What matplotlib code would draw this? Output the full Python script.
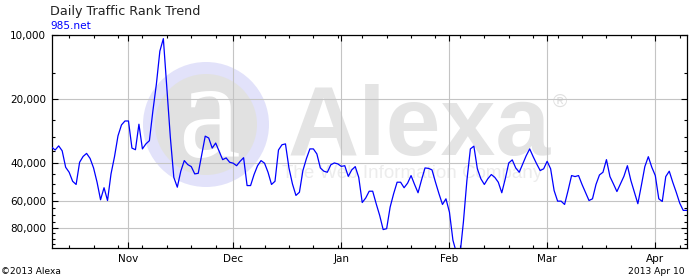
import numpy as np
import pandas as pd
import matplotlib
matplotlib.use("Agg")
import matplotlib.pyplot as plt
import matplotlib.dates as mdates
from matplotlib.patches import Ellipse
from matplotlib.ticker import FixedLocator, FuncFormatter, NullFormatter

# daily rank, 2012-10-10 .. 2013-04-10
dates = pd.date_range("2012-10-10", "2013-04-10", freq="D")
rank = [
    33600, 34600, 33100, 34900, 41700, 44000, 48500, 50200, 39500, 37100,
    35900, 37900, 42000, 49000, 59200, 52000, 59700, 44800, 37200, 29700,
    26400, 25300, 25300, 33900, 34500, 26200, 34200, 32400, 31300, 22700,
    17000, 11900, 10400, 17800, 30100, 46500, 51700, 43500, 38800, 40500,
    41400, 44800, 44500, 36400, 29800, 30400, 33900, 32100, 35100, 38400,
    37700, 39500, 39900, 41000, 39100, 37600, 50800, 50800, 45100, 41000,
    38800, 39900, 44000, 50200, 48500, 34600, 32700, 32400, 42000, 49900,
    56500, 54600, 43200, 38000, 34200, 34200, 36100, 42000, 43500, 44000,
    40600, 39800, 40200, 41300, 41000, 46000, 42900, 41400, 46500, 61000,
    58100, 54000, 54000, 61800, 70100, 81700, 80900, 64100, 55500, 49000,
    49000, 52000, 49500, 45600, 50200, 54900, 47800, 42000, 42200, 42900,
    49000, 55500, 62300, 58600, 67700, 91700, 105000, 108000, 75300, 48100,
    34200, 33200, 42400, 47200, 50200, 47200, 45100, 46500, 49000, 54900,
    47200, 39800, 38500, 42000, 44000, 40200, 36800, 34200, 37200, 40200,
    43200, 42400, 39100, 42400, 53600, 60100, 60100, 62300, 53600, 45600,
    46100, 45600, 50200, 54800, 59700, 58600, 50200, 45300, 44000, 38400,
    46100, 49900, 54200, 49900, 46000, 41000, 48100, 54600, 61800, 50800,
    41400, 37200, 41700, 45600, 58600, 60300, 46100, 43500, 49000, 54600,
    61400, 66400, 66400,
]
y_major = [10000, 20000, 40000, 60000, 80000]
y_minor = [15000, 25000, 30000, 35000, 45000, 50000, 55000,
           65000, 70000, 75000, 85000, 90000, 95000]

W, H = 700, 280
L, R, T, B = 51.7, 686.7, 35.0, 248.3

fig = plt.figure(figsize=(W / 100, H / 100), dpi=100)
ax = fig.add_axes([L / W, 1 - B / H, (R - L) / W, (B - T) / H])


def ax_xy(px, py):
    return (px - L) / (R - L), (B - py) / (B - T)


# alexa watermark
cx, cy = ax_xy(206, 124.5)
ax.add_patch(Ellipse((cx, cy), 126 / (R - L), 125 / (B - T), transform=ax.transAxes,
                     facecolor="#e2e2fa", edgecolor="none", zorder=1))
ax.add_patch(Ellipse((cx, cy), 102 / (R - L), 101 / (B - T), transform=ax.transAxes,
                     facecolor="#e1e1e1", edgecolor="none", zorder=1))
tx, ty = ax_xy(209, 157)
ax.text(tx, ty, "a", transform=ax.transAxes, ha="center", va="baseline",
        fontsize=100, family="Liberation Serif", color="white", zorder=1)
tx, ty = ax_xy(288, 155)
ax.text(tx, ty, "Alexa", transform=ax.transAxes, ha="left", va="baseline",
        fontsize=71, family="Liberation Sans", fontweight="bold",
        color="#e4e4e4", zorder=1)
tx, ty = ax_xy(553, 107)
ax.text(tx, ty, "\u00ae", transform=ax.transAxes, ha="left", va="baseline",
        fontsize=14, family="Liberation Sans", color="#e0e0e0", zorder=1)
tx, ty = ax_xy(282, 178)
ax.text(tx, ty, "The Web Information Company", transform=ax.transAxes, ha="left",
        va="baseline", fontsize=13.5, family="Liberation Sans", color="#ececec", zorder=1)

ax.plot(dates, rank, color="#0000ff", linewidth=0.9, zorder=3)

ax.set_yscale("log")
ax.set_ylim(100000, 10000)
ax.yaxis.set_major_locator(FixedLocator(y_major))
ax.yaxis.set_minor_locator(FixedLocator(y_minor))
ax.yaxis.set_major_formatter(FuncFormatter(lambda v, p: f"{int(v):,}"))
ax.yaxis.set_minor_formatter(NullFormatter())

ax.set_xlim(dates[0], dates[-1])
ax.xaxis.set_major_locator(mdates.MonthLocator())
ax.xaxis.set_major_formatter(mdates.DateFormatter("%b"))
ax.xaxis.set_minor_locator(mdates.WeekdayLocator(byweekday=mdates.MO))

ax.set_axisbelow("line")
ax.grid(True, which="major", color="#c4c4c4", linewidth=0.8, zorder=2)
ax.tick_params(which="both", direction="in", top=True, right=True, color="black",
               width=0.8, labelsize=7.5, pad=4)
ax.tick_params(which="major", length=4.5)
ax.tick_params(which="minor", length=2.5)
for s in ax.spines.values():
    s.set_color("black")
    s.set_linewidth(0.9)

fig.text(50 / W, 1 - 14.7 / H, "Daily Traffic Rank Trend", fontsize=9.2,
         color="#222222", ha="left", va="baseline")
fig.text(50 / W, 1 - 29 / H, "985.net", fontsize=7.6, color="#0000ff",
         ha="left", va="baseline")
fig.text(1 / W, 1 - 274.5 / H, "\u00a92013 Alexa", fontsize=6.5, color="black",
         ha="left", va="baseline")
fig.text(685 / W, 1 - 274.5 / H, "2013 Apr 10", fontsize=6.6, color="black",
         ha="right", va="baseline")

fig.savefig("out.png", dpi=100)
